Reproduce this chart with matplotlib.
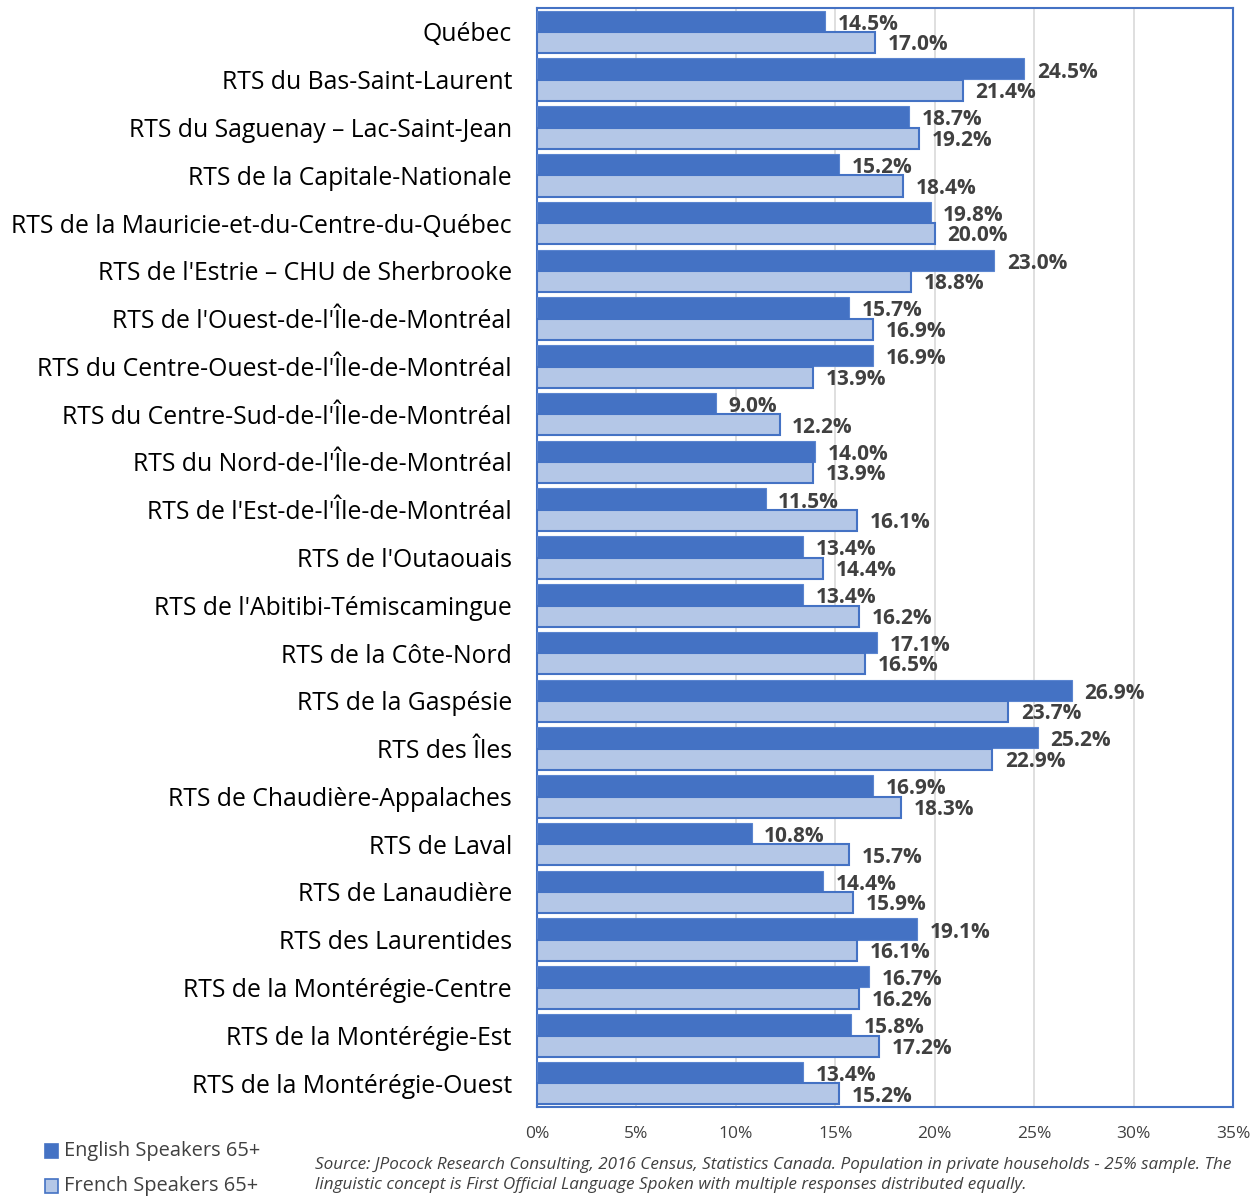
import matplotlib
matplotlib.use("Agg")
import matplotlib.pyplot as plt
import numpy as np
from matplotlib.patches import Rectangle

categories = [
    "Québec", "RTS du Bas-Saint-Laurent", "RTS du Saguenay – Lac-Saint-Jean",
    "RTS de la Capitale-Nationale", "RTS de la Mauricie-et-du-Centre-du-Québec",
    "RTS de l'Estrie – CHU de Sherbrooke", "RTS de l'Ouest-de-l'Île-de-Montréal",
    "RTS du Centre-Ouest-de-l'Île-de-Montréal", "RTS du Centre-Sud-de-l'Île-de-Montréal",
    "RTS du Nord-de-l'Île-de-Montréal", "RTS de l'Est-de-l'Île-de-Montréal",
    "RTS de l'Outaouais", "RTS de l'Abitibi-Témiscamingue", "RTS de la Côte-Nord",
    "RTS de la Gaspésie", "RTS des Îles", "RTS de Chaudière-Appalaches",
    "RTS de Laval", "RTS de Lanaudière", "RTS des Laurentides",
    "RTS de la Montérégie-Centre", "RTS de la Montérégie-Est", "RTS de la Montérégie-Ouest",
]
english = [14.5, 24.5, 18.7, 15.2, 19.8, 23.0, 15.7, 16.9, 9.0, 14.0, 11.5, 13.4,
           13.4, 17.1, 26.9, 25.2, 16.9, 10.8, 14.4, 19.1, 16.7, 15.8, 13.4]
french = [17.0, 21.4, 19.2, 18.4, 20.0, 18.8, 16.9, 13.9, 12.2, 13.9, 16.1, 14.4,
          16.2, 16.5, 23.7, 22.9, 18.3, 15.7, 15.9, 16.1, 16.2, 17.2, 15.2]
series_names = ["English Speakers 65+", "French Speakers 65+"]
xticks = [0, 5, 10, 15, 20, 25, 30, 35]
xtick_labels = ["0%", "5%", "10%", "15%", "20%", "25%", "30%", "35%"]
source = ("Source: JPocock Research Consulting, 2016 Census, Statistics Canada. Population in private households - 25% sample. The\n"
          "linguistic concept is First Official Language Spoken with multiple responses distributed equally.")

FONT = "Open Sans"
DARK = "#4472C4"
LIGHT = "#B4C7E7"
TXT = "#404040"

fig = plt.figure(figsize=(12.53, 11.99), dpi=100)
ax = fig.add_axes([537/1253, 1-1107/1199, (1233-537)/1253, (1107-8)/1199])

n = len(categories)
y = np.arange(n)
h = 0.44
ax.barh(y - h/2 - 0.005, english, height=h, color=DARK, edgecolor="#5B85D0", linewidth=0.8, zorder=3)
ax.barh(y + h/2 + 0.005, french, height=h, color=LIGHT, edgecolor=DARK, linewidth=1.5, zorder=3)

for i in range(n):
    ax.annotate(f"{english[i]:.1f}%", (english[i], y[i] - h/2 + 0.06), xytext=(9, 0),
                textcoords="offset points", va="center", ha="left", fontsize=15,
                fontweight="bold", color=TXT, family=FONT, zorder=4)
    ax.annotate(f"{french[i]:.1f}%", (french[i], y[i] + h/2 + 0.05), xytext=(9, 0),
                textcoords="offset points", va="center", ha="left", fontsize=15,
                fontweight="bold", color=TXT, family=FONT, zorder=4)

ax.set_xlim(0, 35)
ax.set_ylim(n - 0.5, -0.5)
ax.set_xticks(xticks)
ax.set_xticklabels(xtick_labels, family=FONT, fontsize=12.5, color=TXT)
ax.set_yticks(y)
ax.set_yticklabels(categories, family=FONT, fontsize=17.8, color="black")
ax.tick_params(axis="y", length=0, pad=18)
ax.tick_params(axis="x", length=0, pad=14)
ax.grid(axis="x", color="#D9D9D9", linewidth=1.2, zorder=0)
for s in ax.spines.values():
    s.set_color(DARK)
    s.set_linewidth(1.5)

# legend
for k, (name, col) in enumerate(zip(series_names, [DARK, LIGHT])):
    yy = 1-1151/1199 if k == 0 else 1-1186/1199
    fig.patches.append(Rectangle((45/1253, yy - 7/1199), 13/1253, 14/1199, transform=fig.transFigure,
                                 facecolor=col, edgecolor=DARK, linewidth=1.2))
    fig.text(64/1253, yy, name, family=FONT, fontsize=14.4, va="center", ha="left", color=TXT)

fig.text(315/1253, 1-1175/1199, source, family=FONT, style="italic", fontsize=12.3,
         va="center", ha="left", color=TXT, linespacing=1.3)

fig.savefig("out.png", dpi=100)
